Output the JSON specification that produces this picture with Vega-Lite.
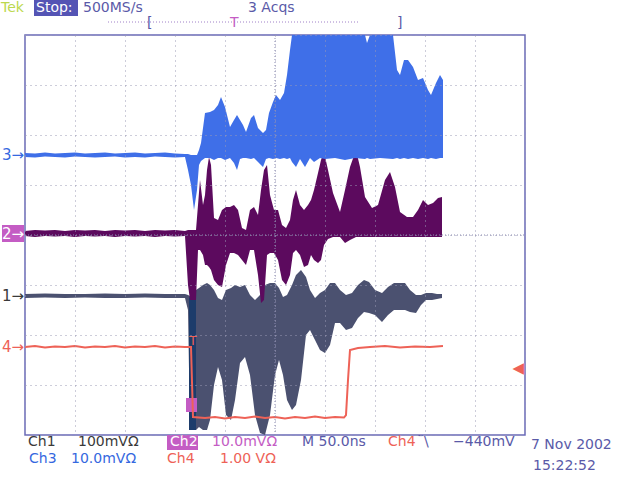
{
"$schema": "https://vega.github.io/schema/vega-lite/v6.json",
"width": 500, "height": 400,
"autosize": {"type": "none"},
"padding": {"left": 25, "top": 35, "right": 115, "bottom": 45},
"background": "#ffffff",
"config": {"view": {"stroke": "#6a6ab8", "strokeWidth": 1.5}},
"datasets": {
"ch3": [
{"t":0,"v":1.56,"v2":1.64},{"t":10,"v":1.55,"v2":1.63},{"t":20,"v":1.57,"v2":1.65},{"t":30,"v":1.56,"v2":1.63},{"t":40,"v":1.55,"v2":1.64},{"t":50,"v":1.57,"v2":1.65},{"t":60,"v":1.56,"v2":1.63},{"t":70,"v":1.55,"v2":1.64},{"t":80,"v":1.56,"v2":1.65},{"t":90,"v":1.57,"v2":1.63},{"t":100,"v":1.55,"v2":1.64},{"t":110,"v":1.56,"v2":1.65},{"t":120,"v":1.55,"v2":1.63},{"t":130,"v":1.57,"v2":1.64},{"t":140,"v":1.56,"v2":1.65},{"t":150,"v":1.55,"v2":1.63},{"t":160,"v":1.56,"v2":1.62},
{"t":163,"v":1.3,"v2":1.62},{"t":166,"v":1.0,"v2":1.6},{"t":169,"v":0.5,"v2":1.6},{"t":172,"v":0.9,"v2":1.6},{"t":174,"v":1.4,"v2":1.7},{"t":176,"v":1.48,"v2":1.84},{"t":180,"v":1.54,"v2":2.44},{"t":185,"v":1.54,"v2":2.46},{"t":189,"v":1.5,"v2":2.5},{"t":193,"v":1.54,"v2":2.6},{"t":196,"v":1.54,"v2":2.76},{"t":200,"v":1.5,"v2":2.56},{"t":205,"v":1.54,"v2":2.16},{"t":209,"v":1.44,"v2":2.3},{"t":212,"v":1.3,"v2":2.4},{"t":215,"v":1.52,"v2":2.3},{"t":218,"v":1.54,"v2":2.2},{"t":221,"v":1.54,"v2":2.06},{"t":226,"v":1.52,"v2":2.34},{"t":229,"v":1.54,"v2":2.4},{"t":233,"v":1.46,"v2":2.14},{"t":238,"v":1.36,"v2":2.04},{"t":241,"v":1.52,"v2":2.1},{"t":244,"v":1.54,"v2":2.44},{"t":248,"v":1.52,"v2":2.66},{"t":251,"v":1.54,"v2":2.8},{"t":255,"v":1.52,"v2":2.7},{"t":259,"v":1.54,"v2":2.84},{"t":262,"v":1.52,"v2":3.2},{"t":265,"v":1.54,"v2":3.7},{"t":267,"v":1.46,"v2":4.0},{"t":271,"v":1.36,"v2":4.0},{"t":275,"v":1.52,"v2":4.0},{"t":280,"v":1.36,"v2":4.0},{"t":285,"v":1.54,"v2":4.0},{"t":289,"v":1.46,"v2":4.0},{"t":295,"v":1.54,"v2":4.0},{"t":300,"v":1.52,"v2":4.0},{"t":310,"v":1.54,"v2":4.0},{"t":320,"v":1.5,"v2":4.0},{"t":330,"v":1.54,"v2":4.0},{"t":340,"v":1.52,"v2":4.0},{"t":342,"v":1.54,"v2":3.84},{"t":345,"v":1.52,"v2":4.0},{"t":355,"v":1.54,"v2":4.0},{"t":368,"v":1.52,"v2":4.0},{"t":372,"v":1.54,"v2":3.3},{"t":375,"v":1.52,"v2":3.2},{"t":379,"v":1.54,"v2":3.5},{"t":383,"v":1.52,"v2":3.5},{"t":388,"v":1.54,"v2":3.36},{"t":393,"v":1.52,"v2":3.1},{"t":398,"v":1.54,"v2":3.14},{"t":403,"v":1.52,"v2":2.9},{"t":406,"v":1.54,"v2":2.8},{"t":411,"v":1.52,"v2":3.04},{"t":415,"v":1.54,"v2":3.2},{"t":418,"v":1.54,"v2":3.1}
],
"ch2": [
{"t":0,"v":-0.02,"v2":0.08},{"t":10,"v":-0.04,"v2":0.1},{"t":20,"v":-0.02,"v2":0.09},{"t":30,"v":-0.03,"v2":0.1},{"t":40,"v":-0.02,"v2":0.08},{"t":50,"v":-0.04,"v2":0.1},{"t":60,"v":-0.02,"v2":0.09},{"t":70,"v":-0.03,"v2":0.1},{"t":80,"v":-0.02,"v2":0.08},{"t":90,"v":-0.04,"v2":0.1},{"t":100,"v":-0.02,"v2":0.09},{"t":110,"v":-0.03,"v2":0.1},{"t":120,"v":-0.02,"v2":0.08},{"t":130,"v":-0.04,"v2":0.1},{"t":140,"v":-0.02,"v2":0.09},{"t":150,"v":-0.03,"v2":0.1},{"t":160,"v":-0.02,"v2":0.08},
{"t":163,"v":-1.0,"v2":0.1},{"t":165,"v":-1.3,"v2":0.1},{"t":171,"v":-1.3,"v2":0.1},{"t":173,"v":-0.3,"v2":0.6},{"t":175,"v":-0.3,"v2":1.1},{"t":178,"v":-0.4,"v2":0.6},{"t":180,"v":-0.6,"v2":0.8},{"t":182,"v":-0.6,"v2":1.3},{"t":184,"v":-0.64,"v2":1.56},{"t":186,"v":-0.7,"v2":1.4},{"t":189,"v":-0.9,"v2":0.34},{"t":193,"v":-1.0,"v2":0.3},{"t":197,"v":-1.04,"v2":0.5},{"t":201,"v":-0.6,"v2":0.56},{"t":205,"v":-0.36,"v2":0.56},{"t":209,"v":-0.36,"v2":0.6},{"t":213,"v":-0.4,"v2":0.5},{"t":217,"v":-0.5,"v2":0.14},{"t":221,"v":-0.6,"v2":0.1},{"t":225,"v":-0.3,"v2":0.5},{"t":229,"v":-0.3,"v2":0.56},{"t":233,"v":-0.8,"v2":0.4},{"t":236,"v":-1.36,"v2":0.9},{"t":239,"v":-1.3,"v2":1.3},{"t":242,"v":-0.4,"v2":1.4},{"t":245,"v":-0.36,"v2":0.8},{"t":249,"v":-0.36,"v2":0.5},{"t":253,"v":-0.5,"v2":0.5},{"t":257,"v":-0.9,"v2":0.2},{"t":261,"v":-1.0,"v2":0.14},{"t":265,"v":-0.8,"v2":0.3},{"t":268,"v":-0.36,"v2":0.7},{"t":271,"v":-0.3,"v2":0.9},{"t":275,"v":-0.4,"v2":0.6},{"t":279,"v":-0.64,"v2":0.5},{"t":283,"v":-0.6,"v2":0.6},{"t":286,"v":-0.4,"v2":0.7},{"t":289,"v":-0.5,"v2":0.9},{"t":293,"v":-0.56,"v2":1.24},{"t":296,"v":-0.5,"v2":1.5},{"t":299,"v":-0.2,"v2":1.66},{"t":303,"v":-0.08,"v2":1.3},{"t":308,"v":-0.04,"v2":0.84},{"t":315,"v":-0.04,"v2":0.46},{"t":320,"v":-0.16,"v2":0.9},{"t":325,"v":-0.1,"v2":1.36},{"t":331,"v":-0.04,"v2":1.7},{"t":335,"v":-0.04,"v2":1.36},{"t":340,"v":-0.04,"v2":0.76},{"t":347,"v":-0.04,"v2":0.54},{"t":353,"v":-0.04,"v2":0.6},{"t":360,"v":-0.04,"v2":1.1},{"t":365,"v":-0.04,"v2":1.26},{"t":370,"v":-0.04,"v2":0.96},{"t":375,"v":-0.04,"v2":0.46},{"t":382,"v":-0.04,"v2":0.36},{"t":388,"v":-0.04,"v2":0.36},{"t":393,"v":-0.04,"v2":0.5},{"t":398,"v":-0.04,"v2":0.7},{"t":403,"v":-0.04,"v2":0.6},{"t":408,"v":-0.04,"v2":0.64},{"t":413,"v":-0.04,"v2":0.74},{"t":417,"v":-0.04,"v2":0.76}
],
"ch1": [
{"t":0,"v":-1.26,"v2":-1.18},{"t":20,"v":-1.25,"v2":-1.17},{"t":40,"v":-1.26,"v2":-1.18},{"t":60,"v":-1.25,"v2":-1.18},{"t":80,"v":-1.26,"v2":-1.17},{"t":100,"v":-1.26,"v2":-1.18},{"t":120,"v":-1.25,"v2":-1.17},{"t":140,"v":-1.26,"v2":-1.18},{"t":160,"v":-1.26,"v2":-1.18},
{"t":163,"v":-1.5,"v2":-1.2},{"t":165,"v":-3.9,"v2":-1.22},{"t":171,"v":-3.9,"v2":-1.1},{"t":174,"v":-3.84,"v2":-1.06},{"t":178,"v":-3.9,"v2":-1.0},{"t":182,"v":-3.9,"v2":-0.96},{"t":185,"v":-3.7,"v2":-1.0},{"t":189,"v":-3.0,"v2":-1.1},{"t":193,"v":-2.64,"v2":-1.26},{"t":197,"v":-2.9,"v2":-1.3},{"t":201,"v":-3.6,"v2":-1.1},{"t":206,"v":-3.7,"v2":-1.06},{"t":210,"v":-3.3,"v2":-1.0},{"t":215,"v":-2.56,"v2":-1.04},{"t":220,"v":-2.44,"v2":-1.0},{"t":225,"v":-2.8,"v2":-1.2},{"t":230,"v":-3.6,"v2":-1.3},{"t":235,"v":-3.96,"v2":-1.2},{"t":240,"v":-4.0,"v2":-1.0},{"t":245,"v":-3.6,"v2":-0.96},{"t":250,"v":-2.8,"v2":-0.96},{"t":254,"v":-2.5,"v2":-1.06},{"t":258,"v":-2.8,"v2":-1.24},{"t":262,"v":-3.3,"v2":-1.2},{"t":267,"v":-3.5,"v2":-1.0},{"t":271,"v":-3.4,"v2":-0.8},{"t":276,"v":-2.9,"v2":-0.7},{"t":281,"v":-2.0,"v2":-0.84},{"t":285,"v":-1.9,"v2":-1.1},{"t":290,"v":-2.1,"v2":-1.26},{"t":295,"v":-2.3,"v2":-1.16},{"t":300,"v":-2.36,"v2":-1.1},{"t":305,"v":-2.2,"v2":-0.96},{"t":310,"v":-1.76,"v2":-0.96},{"t":315,"v":-1.76,"v2":-1.1},{"t":321,"v":-1.9,"v2":-1.2},{"t":327,"v":-1.86,"v2":-1.16},{"t":333,"v":-1.66,"v2":-1.0},{"t":339,"v":-1.54,"v2":-0.9},{"t":344,"v":-1.56,"v2":-0.94},{"t":350,"v":-1.6,"v2":-1.1},{"t":357,"v":-1.74,"v2":-1.16},{"t":363,"v":-1.6,"v2":-1.04},{"t":369,"v":-1.5,"v2":-0.96},{"t":375,"v":-1.5,"v2":-0.96},{"t":380,"v":-1.5,"v2":-0.96},{"t":385,"v":-1.54,"v2":-1.1},{"t":391,"v":-1.56,"v2":-1.2},{"t":396,"v":-1.4,"v2":-1.2},{"t":401,"v":-1.3,"v2":-1.16},{"t":407,"v":-1.3,"v2":-1.16},{"t":412,"v":-1.28,"v2":-1.18},{"t":417,"v":-1.26,"v2":-1.18}
],
"ch4": [
{"t":0,"v":-2.24},{"t":10,"v":-2.22},{"t":20,"v":-2.25},{"t":30,"v":-2.23},{"t":40,"v":-2.24},{"t":50,"v":-2.22},{"t":60,"v":-2.25},{"t":70,"v":-2.23},{"t":80,"v":-2.24},{"t":90,"v":-2.22},{"t":100,"v":-2.25},{"t":110,"v":-2.23},{"t":120,"v":-2.24},{"t":130,"v":-2.22},{"t":140,"v":-2.25},{"t":150,"v":-2.23},{"t":160,"v":-2.24},{"t":166,"v":-2.24},{"t":168,"v":-3.64},{"t":180,"v":-3.66},{"t":190,"v":-3.64},{"t":200,"v":-3.67},{"t":210,"v":-3.64},{"t":220,"v":-3.66},{"t":230,"v":-3.63},{"t":240,"v":-3.66},{"t":250,"v":-3.64},{"t":260,"v":-3.67},{"t":270,"v":-3.64},{"t":280,"v":-3.66},{"t":290,"v":-3.63},{"t":300,"v":-3.66},{"t":310,"v":-3.64},{"t":319,"v":-3.65},{"t":321,"v":-3.6},{"t":323,"v":-2.9},{"t":325,"v":-2.3},{"t":333,"v":-2.26},{"t":345,"v":-2.24},{"t":360,"v":-2.22},{"t":375,"v":-2.25},{"t":390,"v":-2.23},{"t":405,"v":-2.24},{"t":418,"v":-2.22}
],
"box": [
{"t":164,"t2":171,"v":-1.25,"v2":-3.9,"k":"navy"},
{"t":161,"t2":172,"v":-3.26,"v2":-3.54,"k":"c2"},
{"t":9,"t2":53,"v":4.7,"v2":4.38,"k":"stop"},
{"t":-23,"t2":-1,"v":0.2,"v2":-0.14,"k":"c2"},
{"t":142,"t2":173,"v":-4.0,"v2":-4.3,"k":"c2"}
],
"cross": [
{"t":250,"t2":250,"v":-4,"v2":4},
{"t":0,"t2":500,"v":0,"v2":0}
],
"bracket": [
{"t":83,"t2":333,"v":4.26,"v2":4.26}
],
"txt": [
{"t":-24,"v":4.54,"s":"Tek","k":"tek"},
{"t":11,"v":4.54,"s":"Stop:","k":"inv"},
{"t":58,"v":4.54,"s":"500MS/s","k":"ui"},
{"t":223,"v":4.54,"s":"3 Acqs","k":"ui"},
{"t":122,"v":4.24,"s":"[","k":"ui"},
{"t":205,"v":4.24,"s":"T","k":"c2"},
{"t":372,"v":4.24,"s":"]","k":"ui"},
{"t":3,"v":-4.14,"s":"Ch1","k":"c1"},
{"t":53,"v":-4.14,"s":"100mVΩ","k":"c1"},
{"t":145,"v":-4.14,"s":"Ch2","k":"inv"},
{"t":187,"v":-4.14,"s":"10.0mVΩ","k":"c2"},
{"t":277,"v":-4.14,"s":"M 50.0ns","k":"ui"},
{"t":363,"v":-4.14,"s":"Ch4","k":"c4"},
{"t":392,"v":-4.14,"s":"ˉ\\","k":"ui"},
{"t":428,"v":-4.14,"s":"−440mV","k":"ui"},
{"t":506,"v":-4.2,"s":"7 Nov 2002","k":"ui"},
{"t":4,"v":-4.48,"s":"Ch3","k":"c3"},
{"t":46,"v":-4.48,"s":"10.0mVΩ","k":"c3"},
{"t":142,"v":-4.48,"s":"Ch4","k":"c4"},
{"t":195,"v":-4.48,"s":"1.00 VΩ","k":"c4"},
{"t":508,"v":-4.62,"s":"15:22:52","k":"ui"}
],
"mk": [
{"t":-1,"v":1.6,"s":"3→","k":"c3"},
{"t":-1,"v":0.03,"s":"2→","k":"inv"},
{"t":-1,"v":-1.22,"s":"1→","k":"c1"},
{"t":-1,"v":-2.24,"s":"4→","k":"c4"},
{"t":499,"v":-2.66,"s":"◀","k":"c4"}
],
"tmark": [
{"t":168,"v":-2.12,"s":"T","k":"c4"}
]
},
"encoding": {
"x": {"field": "t", "type": "quantitative", "scale": {"domain": [0, 500], "nice": false, "zero": false},
 "axis": {"values": [0,50,100,150,200,250,300,350,400,450,500], "grid": true, "gridDash": [1,4], "gridColor": "#9a9ab4", "gridWidth": 1, "labels": false, "ticks": false, "domain": false, "title": null, "zindex": 1}},
"y": {"field": "v", "type": "quantitative", "scale": {"domain": [-4, 4], "nice": false, "zero": false},
 "axis": {"values": [-4,-3,-2,-1,0,1,2,3,4], "grid": true, "gridDash": [1,4], "gridColor": "#9a9ab4", "gridWidth": 1, "labels": false, "ticks": false, "domain": false, "title": null, "zindex": 1}}
},
"layer": [
{"data": {"name": "ch1"}, "mark": {"type": "area", "color": "#4b5170", "opacity": 1}, "encoding": {"y2": {"field": "v2"}}},
{"data": {"name": "box"}, "mark": {"type": "rect"}, "encoding": {"x2": {"field": "t2"}, "y2": {"field": "v2"},
 "color": {"field": "k", "type": "nominal", "legend": null, "scale": {"domain": ["c1","c2","c3","c4","ui","tek","inv","stop","navy"], "range": ["#3a3a3a","#c45cc4","#3568e0","#ee6257","#5a5aa8","#bcd84e","#ffffff","#5454b4","#1d3c6b"]}}}},
{"data": {"name": "ch4"}, "mark": {"type": "line", "color": "#ee6257", "strokeWidth": 2}, "encoding": {}},
{"data": {"name": "ch2"}, "mark": {"type": "area", "color": "#5c0a5e", "opacity": 1}, "encoding": {"y2": {"field": "v2"}}},
{"data": {"name": "ch3"}, "mark": {"type": "area", "color": "#3f6fe8", "opacity": 1}, "encoding": {"y2": {"field": "v2"}}},
{"data": {"name": "cross"}, "mark": {"type": "rule", "color": "#8a8ab0", "strokeDash": [1,2], "strokeWidth": 1}, "encoding": {"x2": {"field": "t2"}, "y2": {"field": "v2"}}},
{"data": {"name": "bracket"}, "mark": {"type": "rule", "color": "#a080c8", "strokeDash": [1,2], "strokeWidth": 1}, "encoding": {"x2": {"field": "t2"}, "y2": {"field": "v2"}}},
{"data": {"name": "txt"}, "mark": {"type": "text", "align": "left", "baseline": "middle", "font": "DejaVu Sans", "fontSize": 14},
 "encoding": {"text": {"field": "s"}, "color": {"field": "k", "type": "nominal", "legend": null}}},
{"data": {"name": "mk"}, "mark": {"type": "text", "align": "right", "baseline": "middle", "font": "DejaVu Sans", "fontSize": 15},
 "encoding": {"text": {"field": "s"}, "color": {"field": "k", "type": "nominal", "legend": null}}},
{"data": {"name": "tmark"}, "mark": {"type": "text", "align": "center", "baseline": "middle", "font": "DejaVu Sans", "fontSize": 12},
 "encoding": {"text": {"field": "s"}, "color": {"field": "k", "type": "nominal", "legend": null}}}
]
}
